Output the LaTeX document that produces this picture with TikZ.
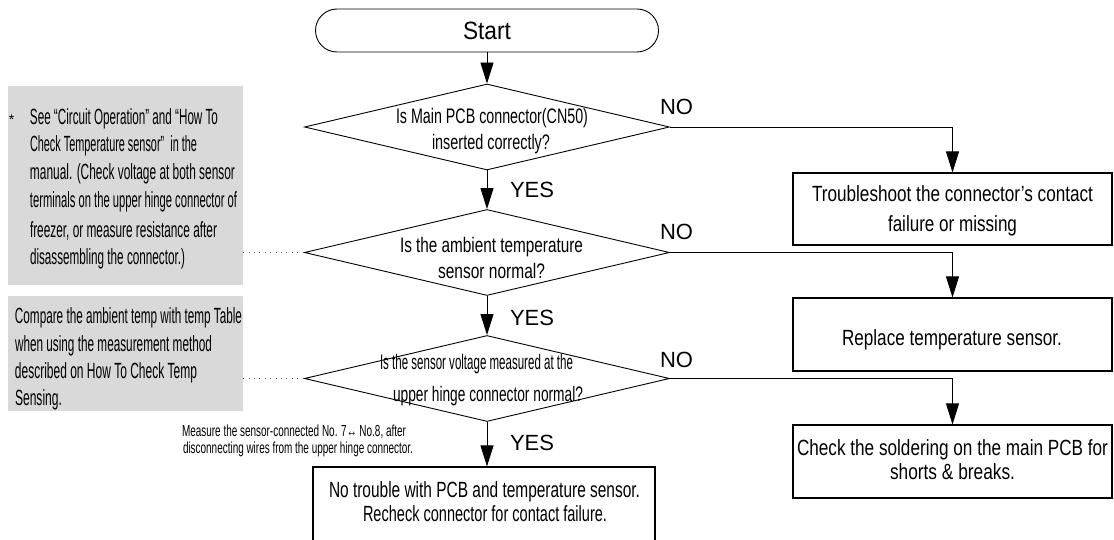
\documentclass[tikz,border=0pt]{standalone}
\usepackage{fontspec}
\setmainfont{Liberation Sans}
\usetikzlibrary{arrows.meta,shapes.geometric}
\definecolor{gbox}{RGB}{217,217,217}
\definecolor{dotc}{RGB}{80,80,80}
\newcommand\fw[2]{\resizebox{#1pt}{\height}{#2}}
\newcommand\fz[1]{\fontsize{#1}{#1}\selectfont}
\begin{document}
\begin{tikzpicture}[x=1pt,y=-1pt,
  tl/.style={inner sep=0pt, outer sep=0pt, anchor=base west},
  dtxt/.style={tl, font=\fz{21}},
  btxt/.style={tl, font=\fz{22}},
  gtxt/.style={tl, font=\fz{22}},
  ntxt/.style={tl, font=\fz{16}},
  yn/.style={tl, font=\fz{22}},
  dia/.style={diamond, draw, line width=0.9pt, inner sep=0pt, minimum width=365pt, minimum height=86pt},
  rbox/.style={rectangle, draw, line width=1.1pt, inner sep=0pt, minimum width=319pt, minimum height=73pt},
  graybox/.style={rectangle, fill=gbox, inner sep=0pt},
  arr/.style={line width=0.9pt, -{Triangle[width=13pt,length=21pt]}},
  dotline/.style={dotc, line width=0.9pt, dash pattern=on 0.9pt off 4.5pt}
]
\useasboundingbox (0,0) rectangle (1114,540);

% gray note boxes
\node[graybox, minimum width=235pt, minimum height=199pt] (g1) at (125.5,185.5) {};
\node[graybox, minimum width=235pt, minimum height=115pt] (g2) at (125.5,353.5) {};

% start
\node[draw, line width=0.9pt, rounded corners=21.5pt, minimum width=343pt, minimum height=43pt, inner sep=0pt, font=\fz{25}] (st) at (487,30.5) {\fw{48}{Start}};

% decisions
\node[dia] (d1) at (487,127) {};
\node[dia] (d2) at (487,252.5) {};
\node[dia] (d3) at (487,378.5) {};

% result boxes
\node[rbox, minimum height=72pt] (b1) at (952.5,209) {};
\node[rbox] (b2) at (952.5,334.5) {};
\node[rbox] (b3) at (952.5,461.5) {};
\node[rbox, minimum width=342pt, minimum height=100pt] (b4) at (484,517) {};

% decision texts
\node[dtxt] (d1a) at (396,124) {\fw{192}{Is Main PCB connector(CN50)}};
\node[dtxt] (d1b) at (432,150) {\fw{118}{inserted correctly?}};
\node[dtxt] (d2a) at (400,253) {\fw{183}{Is the ambient temperature}};
\node[dtxt] (d2b) at (438,278) {\fw{107}{sensor normal?}};
\node[dtxt] (d3a) at (380,369) {\fw{193}{Is the sensor voltage measured at the}};
\node[dtxt] (d3b) at (393,401) {\fw{190}{upper hinge connector normal?}};

% YES / NO
\node[yn] (y1) at (510,198) {YES};
\node[yn] (y2) at (510,325) {YES};
\node[yn] (y3) at (510,450) {YES};
\node[yn] (n1) at (660,115) {NO};
\node[yn] (n2) at (660,240) {NO};
\node[yn] (n3) at (660,367) {NO};

% box texts
\node[btxt] (b1a) at (812,202) {\fw{281}{Troubleshoot the connector’s contact}};
\node[btxt] (b1b) at (888,232) {\fw{129}{failure or missing}};
\node[btxt] (b2a) at (842,345) {\fw{220}{Replace temperature sensor.}};
\node[btxt] (b3a) at (797,455) {\fw{311}{Check the soldering on the main PCB for}};
\node[btxt] (b3b) at (890,479) {\fw{125}{shorts \& breaks.}};
\node[btxt] (b4a) at (329,497) {\fw{311}{No trouble with PCB and temperature sensor.}};
\node[btxt] (b4b) at (363,521) {\fw{244}{Recheck connector for contact failure.}};

% gray box 1 texts
\node[tl, anchor=base, font=\fz{14}] (g1s) at (11.5,125) {*};
\node[gtxt] (g1a) at (30,125) {\fw{188}{See “Circuit Operation” and “How To}};
\node[gtxt] (g1b) at (30,152) {\fw{167}{Check Temperature sensor”~ in the}};
\node[gtxt] (g1c) at (30,180) {\fw{205}{manual. (Check voltage at both sensor}};
\node[gtxt] (g1d) at (30,208) {\fw{207}{terminals on the upper hinge connector of}};
\node[gtxt] (g1e) at (30,237) {\fw{187}{freezer, or measure resistance after}};
\node[gtxt] (g1f) at (30,265) {\fw{155}{disassembling the connector.)}};

% gray box 2 texts
\node[gtxt] (g2a) at (15,323) {\fw{227}{Compare the ambient temp with temp Table}};
\node[gtxt] (g2b) at (15,351) {\fw{197}{when using the measurement method}};
\node[gtxt] (g2c) at (15,378) {\fw{182}{described on How To Check Temp}};
\node[gtxt] (g2d) at (15,405) {\fw{47}{Sensing.}};

% small note
\node[ntxt] (m1) at (182,436) {\fw{224}{Measure the sensor-connected No. 7↔ No.8, after}};
\node[ntxt] (m2) at (183,453) {\fw{230}{disconnecting wires from the upper hinge connector.}};

% connectors
\draw[arr] (st.south) -- (d1.north);
\draw[arr] (d1.south) -- (d2.north);
\draw[arr] (d2.south) -- (d3.north);
\draw[arr] (d3.south) -- (d3.south |- b4.north);
\draw[arr] (d1.east) -| (b1.north);
\draw[arr] (d2.east) -| (b2.north);
\draw[arr] (d3.east) -| (b3.north);
\draw[dotline] (g1.east |- d2.west) -- (d2.west);
\draw[dotline] (g2.east |- d3.west) -- (d3.west);
\end{tikzpicture}
\end{document}
